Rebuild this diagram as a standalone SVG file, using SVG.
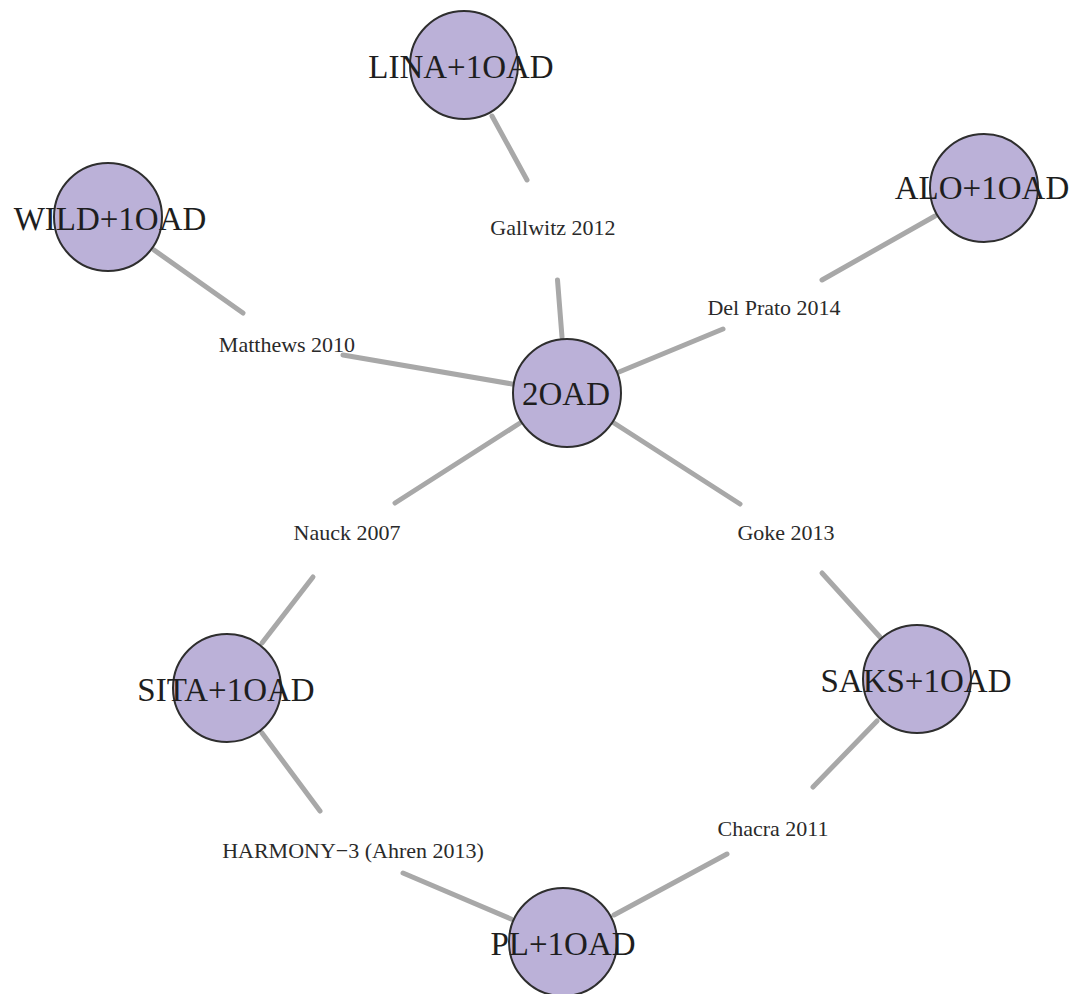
<svg xmlns="http://www.w3.org/2000/svg" width="1074" height="994" viewBox="0 0 1074 994">
<style>
.bg{fill:#ffffff}
.edge{stroke:#a8a8a8;stroke-width:5;stroke-linecap:round;fill:none}
.node circle{fill:#bbb1d8;stroke:#2e2e2e;stroke-width:2}
.nl{font-family:"Liberation Serif","Times New Roman",serif;font-size:33px;fill:#1e1e1e;text-anchor:middle}
.el{font-family:"Liberation Serif","Times New Roman",serif;font-size:22px;fill:#2a2a2a;text-anchor:middle}
</style>
<rect class="bg" x="0" y="0" width="1074" height="994"/>
<g id="connectors">
<line class="edge" x1="154" y1="250" x2="243" y2="313"/>
<line class="edge" x1="343" y1="355" x2="512" y2="384"/>
<line class="edge" x1="492" y1="116" x2="527" y2="180"/>
<line class="edge" x1="557.5" y1="280" x2="562" y2="337"/>
<line class="edge" x1="935" y1="216" x2="822" y2="280"/>
<line class="edge" x1="723" y1="329" x2="619" y2="372"/>
<line class="edge" x1="520" y1="423" x2="395" y2="503"/>
<line class="edge" x1="614" y1="423" x2="740" y2="504"/>
<line class="edge" x1="313" y1="577" x2="262" y2="643"/>
<line class="edge" x1="822" y1="573" x2="880" y2="637"/>
<line class="edge" x1="877" y1="721" x2="813" y2="787"/>
<line class="edge" x1="727" y1="854" x2="614" y2="915"/>
<line class="edge" x1="262" y1="733" x2="320" y2="811"/>
<line class="edge" x1="403" y1="873" x2="511" y2="919"/>
</g>
<g id="edge-labels">
<text class="el" x="553" y="235">Gallwitz 2012</text>
<text class="el" x="774" y="315">Del Prato 2014</text>
<text class="el" x="287" y="352">Matthews 2010</text>
<text class="el" x="347" y="540">Nauck 2007</text>
<text class="el" x="786" y="540">Goke 2013</text>
<text class="el" x="773" y="836">Chacra 2011</text>
<text class="el" x="353" y="858">HARMONY−3 (Ahren 2013)</text>
</g>
<g id="node-LINA" class="node"><circle cx="464" cy="65" r="54"/><text class="nl" x="461" y="78">LINA+1OAD</text></g>
<g id="node-WILD" class="node"><circle cx="108" cy="217" r="54"/><text class="nl" x="110" y="230">WILD+1OAD</text></g>
<g id="node-ALO" class="node"><circle cx="984" cy="188" r="54"/><text class="nl" x="982" y="199">ALO+1OAD</text></g>
<g id="node-2OAD" class="node"><circle cx="567" cy="393" r="54"/><text class="nl" x="566" y="405">2OAD</text></g>
<g id="node-SITA" class="node"><circle cx="227" cy="688" r="54"/><text class="nl" x="226" y="701">SITA+1OAD</text></g>
<g id="node-SAKS" class="node"><circle cx="917" cy="679" r="54"/><text class="nl" x="916" y="692">SAKS+1OAD</text></g>
<g id="node-PL" class="node"><circle cx="563" cy="942" r="54"/><text class="nl" x="563" y="955">PL+1OAD</text></g>
</svg>
